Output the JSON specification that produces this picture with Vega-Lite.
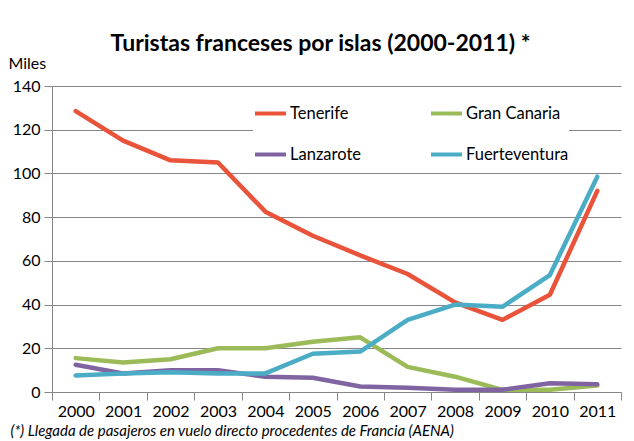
{
  "$schema": "https://vega.github.io/schema/vega-lite/v6.json",
  "width": 569,
  "height": 306,
  "autosize": {"type": "none"},
  "padding": {"left": 52, "top": 86, "right": 13, "bottom": 49},
  "background": "white",
  "title": {
    "text": "Turistas franceses por islas (2000-2011) *",
    "font": "Lato",
    "fontSize": 23,
    "fontWeight": "bold",
    "color": "#000000",
    "anchor": "middle",
    "dx": -16,
    "offset": -1
  },
  "config": {
    "view": {"stroke": null},
    "font": "Lato"
  },
  "data": {
    "values": [
      {"year": "2000", "isla": "Tenerife", "v": 128.5},
      {"year": "2001", "isla": "Tenerife", "v": 115},
      {"year": "2002", "isla": "Tenerife", "v": 106},
      {"year": "2003", "isla": "Tenerife", "v": 105},
      {"year": "2004", "isla": "Tenerife", "v": 82.5},
      {"year": "2005", "isla": "Tenerife", "v": 71.5},
      {"year": "2006", "isla": "Tenerife", "v": 62.5},
      {"year": "2007", "isla": "Tenerife", "v": 54},
      {"year": "2008", "isla": "Tenerife", "v": 41},
      {"year": "2009", "isla": "Tenerife", "v": 33},
      {"year": "2010", "isla": "Tenerife", "v": 44.5},
      {"year": "2011", "isla": "Tenerife", "v": 92},
      {"year": "2000", "isla": "Gran Canaria", "v": 15.5},
      {"year": "2001", "isla": "Gran Canaria", "v": 13.5},
      {"year": "2002", "isla": "Gran Canaria", "v": 15},
      {"year": "2003", "isla": "Gran Canaria", "v": 20},
      {"year": "2004", "isla": "Gran Canaria", "v": 20},
      {"year": "2005", "isla": "Gran Canaria", "v": 23},
      {"year": "2006", "isla": "Gran Canaria", "v": 25},
      {"year": "2007", "isla": "Gran Canaria", "v": 11.5},
      {"year": "2008", "isla": "Gran Canaria", "v": 7},
      {"year": "2009", "isla": "Gran Canaria", "v": 1},
      {"year": "2010", "isla": "Gran Canaria", "v": 1},
      {"year": "2011", "isla": "Gran Canaria", "v": 3},
      {"year": "2000", "isla": "Lanzarote", "v": 12.5},
      {"year": "2001", "isla": "Lanzarote", "v": 8.5},
      {"year": "2002", "isla": "Lanzarote", "v": 10},
      {"year": "2003", "isla": "Lanzarote", "v": 10},
      {"year": "2004", "isla": "Lanzarote", "v": 7},
      {"year": "2005", "isla": "Lanzarote", "v": 6.5},
      {"year": "2006", "isla": "Lanzarote", "v": 2.5},
      {"year": "2007", "isla": "Lanzarote", "v": 2},
      {"year": "2008", "isla": "Lanzarote", "v": 1},
      {"year": "2009", "isla": "Lanzarote", "v": 1},
      {"year": "2010", "isla": "Lanzarote", "v": 4},
      {"year": "2011", "isla": "Lanzarote", "v": 3.5},
      {"year": "2000", "isla": "Fuerteventura", "v": 7.5},
      {"year": "2001", "isla": "Fuerteventura", "v": 8.5},
      {"year": "2002", "isla": "Fuerteventura", "v": 9},
      {"year": "2003", "isla": "Fuerteventura", "v": 8.5},
      {"year": "2004", "isla": "Fuerteventura", "v": 8.5},
      {"year": "2005", "isla": "Fuerteventura", "v": 17.5},
      {"year": "2006", "isla": "Fuerteventura", "v": 18.5},
      {"year": "2007", "isla": "Fuerteventura", "v": 33},
      {"year": "2008", "isla": "Fuerteventura", "v": 40},
      {"year": "2009", "isla": "Fuerteventura", "v": 39},
      {"year": "2010", "isla": "Fuerteventura", "v": 53.5},
      {"year": "2011", "isla": "Fuerteventura", "v": 98.5}
    ]
  },
  "mark": {"type": "line", "strokeWidth": 4.5, "strokeCap": "round", "strokeJoin": "round"},
  "encoding": {
    "x": {
      "field": "year",
      "type": "ordinal",
      "scale": {"paddingInner": 0, "paddingOuter": 0},
      "axis": {
        "title": "(*) Llegada de pasajeros en vuelo directo procedentes de Francia (AENA)",
        "titleFont": "Lato",
        "titleFontSize": 15,
        "titleFontStyle": "italic",
        "titleFontWeight": "normal",
        "titleColor": "#000000",
        "titleAnchor": "start",
        "titleAlign": "left",
        "titleBaseline": "alphabetic",
        "titleX": -42,
        "titleY": 43,
        "labelAngle": 0,
        "labelFontSize": 16,
        "labelColor": "#000000",
        "labelPadding": 3,
        "tickBand": "extent",
        "tickSize": 8,
        "tickColor": "#868686",
        "domainColor": "#868686",
        "grid": false
      }
    },
    "y": {
      "field": "v",
      "type": "quantitative",
      "scale": {"domain": [0, 140]},
      "axis": {
        "title": "Miles",
        "titleAngle": 0,
        "titleAlign": "left",
        "titleBaseline": "alphabetic",
        "titleX": -44,
        "titleY": -18,
        "titleFont": "Lato",
        "titleFontSize": 16,
        "titleFontWeight": "normal",
        "titleColor": "#000000",
        "values": [0, 20, 40, 60, 80, 100, 120, 140],
        "labelFontSize": 16,
        "labelColor": "#000000",
        "labelPadding": 4,
        "tickSize": 8,
        "tickColor": "#868686",
        "domainColor": "#868686",
        "gridColor": "#868686",
        "gridWidth": 1
      }
    },
    "color": {
      "field": "isla",
      "type": "nominal",
      "scale": {
        "domain": ["Tenerife", "Lanzarote", "Gran Canaria", "Fuerteventura"],
        "range": ["#E8533A", "#8064A2", "#9BBB59", "#4BACC6"]
      },
      "legend": {
        "title": null,
        "orient": "none",
        "legendX": 201,
        "legendY": 10,
        "columns": 2,
        "columnPadding": 62,
        "rowPadding": 15,
        "padding": 0,
        "fillColor": "white",
        "symbolType": "stroke",
        "symbolSize": 961,
        "symbolStrokeWidth": 4,
        "labelFont": "Lato",
        "labelFontSize": 16.5,
        "labelColor": "#000000",
        "labelOffset": 2
      }
    }
  }
}
